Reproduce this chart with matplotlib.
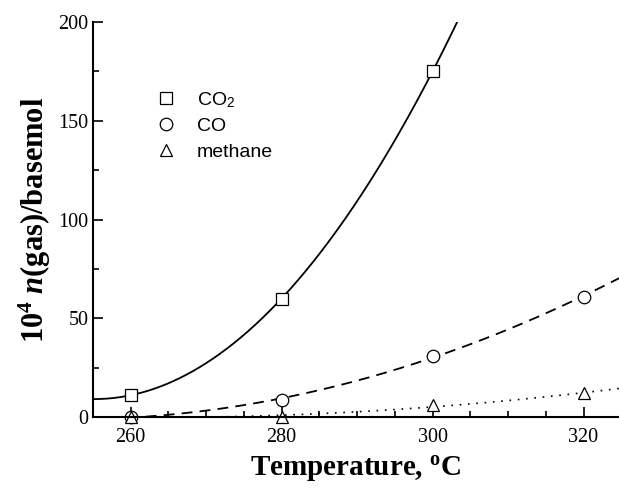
import numpy as np
import matplotlib
matplotlib.use("Agg")
import matplotlib.pyplot as plt
from matplotlib.ticker import MultipleLocator

plt.rcParams["mathtext.fontset"] = "custom"
plt.rcParams["mathtext.rm"] = "Liberation Serif:bold"
plt.rcParams["mathtext.it"] = "Liberation Serif:bold:italic"
plt.rcParams["mathtext.bf"] = "Liberation Serif:bold"
plt.rcParams["mathtext.sf"] = "Liberation Sans"

temp = [260, 280, 300]
co2 = [11, 60, 175]

temp4 = [260, 280, 300, 320]
co = [0, 8.5, 31, 61]
methane = [0, 0, 6, 12]

fig = plt.figure(figsize=(6.19, 4.90), dpi=100)
ax = fig.add_axes([0.150, 0.149, 0.85, 0.806])

# fitted curves
t = np.linspace(255, 325, 300)
p_co2 = np.polyfit(temp, co2, 2)
ax.plot(t, np.polyval(p_co2, t), color="black", lw=1.3)

t2 = np.linspace(262, 325, 300)
p_co = np.polyfit(temp4, co, 2)
ax.plot(t2, np.polyval(p_co, t2), color="black", lw=1.3, dashes=(6, 4))

t3 = np.linspace(265, 325, 300)
p_me = np.polyfit(temp4, methane, 2)
ax.plot(t3, np.clip(np.polyval(p_me, t3), 0, None), color="black", lw=1.2, dashes=(1, 4))

mk = dict(mfc="white", mec="black", mew=0.9, ms=9, ls="none", clip_on=False)
ax.plot(temp, co2, marker="s", label="CO$_\\mathsf{2}$", **mk)
ax.plot(temp4, co, marker="o", label="CO", **mk)
ax.plot(temp4, methane, marker="^", label="methane", **mk)

ax.set_xlim(255, 324.7)
ax.set_ylim(0, 200)
ax.xaxis.set_major_locator(MultipleLocator(20))
ax.xaxis.set_minor_locator(MultipleLocator(5))
ax.yaxis.set_major_locator(MultipleLocator(50))
ax.yaxis.set_minor_locator(MultipleLocator(25))
ax.tick_params(which="both", direction="in", width=1.2)
ax.tick_params(which="major", length=7)
ax.tick_params(which="minor", length=4)
ax.tick_params(axis="x", labelsize=14.5, pad=8)
ax.tick_params(axis="y", labelsize=14.5, pad=3)
for lab in ax.get_xticklabels() + ax.get_yticklabels():
    lab.set_fontfamily("Liberation Serif")

ax.spines["top"].set_visible(False)
ax.spines["right"].set_visible(False)
ax.spines["left"].set_linewidth(1.5)
ax.spines["bottom"].set_linewidth(1.5)

ax.set_xlabel("Temperature, $^{\\mathrm{o}}$C", fontsize=21, fontweight="bold",
              fontfamily="Liberation Serif", labelpad=5)
ax.set_ylabel("10$^{\\mathrm{4}}$ $\\mathit{n}$(gas)/basemol", fontsize=22, fontweight="bold",
              fontfamily="Liberation Serif", labelpad=4)

leg = ax.legend(loc="upper left", bbox_to_anchor=(0.068, 0.872), frameon=False,
                handletextpad=0.6, labelspacing=0.4, prop={"family": "Liberation Sans", "size": 14})

plt.savefig("out.png", dpi=100)
